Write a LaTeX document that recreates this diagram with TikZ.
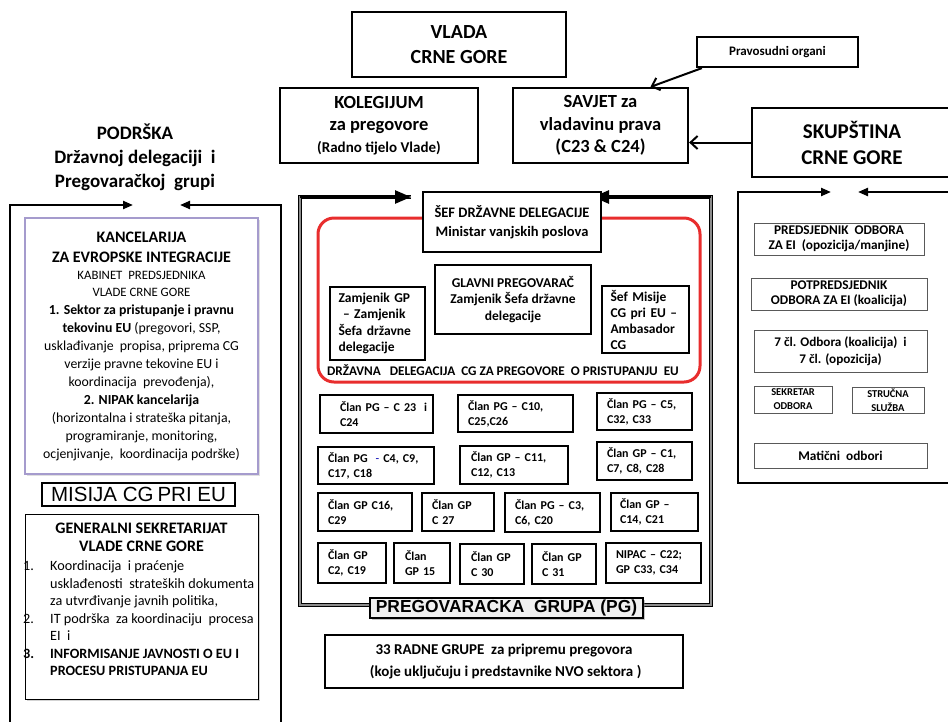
\documentclass[tikz,border=0pt]{standalone}
\usepackage{fontspec}
\setmainfont{Carlito}
\newfontfamily\arialf{Liberation Sans}
\usetikzlibrary{arrows.meta,shadows}
\newcommand{\myfs}[2]{\fontsize{#1}{#2}\selectfont}
\definecolor{redl}{RGB}{232,45,45}
\definecolor{kancb}{RGB}{165,155,205}
\begin{document}
\begin{tikzpicture}[x=1pt,y=-1pt,
  bx/.style={draw, line width=2.2pt, fill=white, inner sep=0pt, align=center},
  clan/.style={draw, line width=2.4pt, fill=white, inner sep=0pt, align=left, font=\bfseries\myfs{12}{15}},
  rbx/.style={draw=black!65, line width=0.9pt, fill=white, inner sep=0pt, align=center, font=\bfseries\myfs{13.3}{15.5}},
  arr/.style={line width=2.2pt, -{Triangle[length=10pt,width=8pt]}},
  carr/.style={line width=2.6pt, -{Triangle[length=16pt,width=13pt]}},
  tarr/.style={line width=2pt, -{Straight Barb[length=7pt,width=13pt]}},
  dbl/.style={draw=black, line width=1.5pt, double=black!45, double distance=1.3pt},
  gsl/.style={anchor=base west, inner sep=0pt, font=\myfs{14.2}{16}},
]
\useasboundingbox (0,0) rectangle (948,721);

% ---------- top ----------
\node[bx, minimum width=214pt, minimum height=65pt, font=\bfseries\myfs{20}{25}] (vlada) at (459,44.5) {VLADA\\CRNE GORE};
\node[bx, minimum width=161pt, minimum height=30pt, font=\bfseries\myfs{13}{15}] (pravo) at (777.5,52) {Pravosudni organi};
\node[bx, minimum width=198pt, minimum height=75pt, font=\bfseries\myfs{18.5}{22}] (koleg) at (379,125.5) {KOLEGIJUM\\za pregovore\\{\myfs{15}{22}(Radno tijelo Vlade)}};
\node[bx, minimum width=175pt, minimum height=75pt, font=\bfseries\myfs{18.5}{22.5}] (savjet) at (600.5,125.5) {SAVJET za\\vladavinu prava\\(C23 \& C24)};
\node[bx, minimum width=200pt, minimum height=69pt, font=\bfseries\myfs{21}{26}] (skup) at (852,142.5) {SKUPŠTINA\\CRNE GORE};
\draw[tarr] ([xshift=6pt]pravo.south west) -- ([xshift=50pt]savjet.north);
\draw[tarr] (skup.west) -- (skup.west -| savjet.east);

% ---------- left column ----------
\node[font=\bfseries\myfs{19}{24}, align=center, inner sep=0pt] (podrska) at (135,157) {PODRŠKA\\Državnoj delegaciji~ i\\Pregovaračkoj~ grupi};
\coordinate (lfbl) at (10,725); \coordinate (lftl) at (10,205); \coordinate (lfa) at (133,205);
\coordinate (lfbr) at (281,725); \coordinate (lftr) at (281,205); \coordinate (lfb) at (180,205);
\draw[arr] (lfbl) -- (lftl) -- (lfa);
\draw[arr] (lfbr) -- (lftr) -- (lfb);

\node[draw=kancb, line width=1.3pt, fill=white, drop shadow={opacity=0.25, shadow xshift=1.5pt, shadow yshift=-1.5pt}, minimum width=233pt, minimum height=256pt, align=center, inner sep=0pt, font=\myfs{13.8}{18}] (kanc) at (141.5,346)
{{\bfseries\myfs{16}{18}KANCELARIJA}\\[2pt]
{\bfseries\myfs{16}{18}ZA EVROPSKE INTEGRACIJE}\\[-1pt]
{\myfs{12.8}{18}KABINET~ PREDSJEDNIKA}\\[-1pt]
{\myfs{12.8}{18}VLADE CRNE GORE}\\
\textbf{1. Sektor za pristupanje i pravnu}\\
\textbf{tekovinu EU} (pregovori, SSP,\\
usklađivanje~ propisa, priprema CG\\
verzije pravne tekovine EU i\\
koordinacija~ prevođenja),\\
\textbf{2. NIPAK kancelarija}\\
(horizontalna i strateška pitanja,\\
programiranje, monitoring,\\
ocjenjivanje,~ koordinacija podrške)};

\node[draw, line width=1.1pt, fill=white, minimum width=193pt, minimum height=23pt, inner sep=0pt, font=\arialf\myfs{20.5}{22}] (misija) at (138.5,494.5) {MISIJA CG\hspace{4pt}PRI EU};

\node[draw, line width=1pt, fill=white, drop shadow={opacity=0.35, shadow xshift=1.5pt, shadow yshift=-1.5pt}, minimum width=233pt, minimum height=185pt, inner sep=0pt] (gs) at (141.5,606.5) {};
\node[font=\bfseries\myfs{16}{18}, align=center, inner sep=0pt] (gshead) at (141.5,537) {GENERALNI SEKRETARIJAT\\VLADE CRNE GORE};
\node[gsl] (g1n) at (23,570) {1.};
\node[gsl] (g1a) at (50,570) {Koordinacija~ i praćenje};
\node[gsl] (g1b) at (50,588) {usklađenosti~ strateških dokumenta};
\node[gsl] (g1c) at (50,605) {za utvrđivanje javnih politika,};
\node[gsl] (g2n) at (23,623) {2.};
\node[gsl] (g2a) at (50,623) {IT podrška~ za koordinaciju~ procesa};
\node[gsl] (g2b) at (50,640) {EI~ i};
\node[gsl, font=\bfseries\myfs{14.2}{16}] (g3n) at (23,658) {3.};
\node[gsl, font=\bfseries\myfs{14.2}{16}] (g3a) at (50,658) {INFORMISANJE JAVNOSTI O EU I};
\node[gsl, font=\bfseries\myfs{14.2}{16}] (g3b) at (50,675) {PROCESU PRISTUPANJA EU};

% ---------- centre ----------
\coordinate (cftl) at (300,197); \coordinate (cfbl) at (300,605);
\coordinate (cfbr) at (711,605); \coordinate (cftr) at (711,197);
\coordinate (cfa) at (411,197); \coordinate (cfb) at (593,197);
\draw[dbl] (cfa) -- (cftl) -- (cfbl) -- (cfbr) -- (cftr) -- (cfb);
\draw[carr] (cftl) -- (cfa);
\draw[carr] (cftr) -- (cfb);

\draw[draw=redl, line width=3pt, rounded corners=16pt] (318,218) rectangle (700,382);
\node[bx, minimum width=178pt, minimum height=60pt, font=\bfseries\myfs{14.5}{19}] (sef) at (512,222) {ŠEF DRŽAVNE DELEGACIJE\\Ministar vanjskih poslova};
\node[bx, line width=2.6pt, minimum width=95pt, minimum height=73pt, text width=78pt, align=left, font=\bfseries\myfs{13.5}{16.5}] (zamj) at (377.5,323.5) {\mbox{Zamjenik GP}\\\mbox{~– Zamjenik}\\\mbox{Šefa državne}\\\mbox{delegacije}};
\node[bx, line width=2.6pt, minimum width=156pt, minimum height=69pt, font=\bfseries\myfs{13.5}{16.5}] (glavni) at (513,299.5) {GLAVNI PREGOVARAČ\\Zamjenik Šefa državne\\delegacije};
\node[bx, line width=2.6pt, minimum width=87pt, minimum height=67pt, text width=70pt, align=left, font=\bfseries\myfs{13.5}{16}] (sefm) at (645.5,319.5) {\mbox{Šef Misije}\\\mbox{CG pri EU –}\\\mbox{Ambasador}\\\mbox{CG}};
\node[font=\bfseries\myfs{13.2}{15}, inner sep=0pt] (drz) at (503,370) {DRŽAVNA~~ DELEGACIJA~ CG ZA PREGOVORE~ O PRISTUPANJU~ EU};

\node[clan, minimum width=113pt, minimum height=38pt, text width=73pt] (b1) at (376.5,414) {\mbox{Član PG – C 23~ i}\\\mbox{C24}};
\node[clan, minimum width=115pt, minimum height=37pt, text width=95pt] (b2) at (515.5,413.5) {\mbox{Član PG – C10,}\\\mbox{C25,C26}};
\node[clan, minimum width=95pt, minimum height=37pt, text width=75pt] (b3) at (644.5,411.5) {\mbox{Član PG – C5,}\\\mbox{C32, C33}};
\node[clan, minimum width=116pt, minimum height=37pt, text width=96pt] (b4) at (376,465.5) {\mbox{Član PG~ {\color{blue!70!black}\mdseries -} C4, C9,}\\\mbox{C17, C18}};
\node[clan, minimum width=108pt, minimum height=38pt, text width=86pt] (b5) at (514,465) {\mbox{Član GP – C11,}\\\mbox{C12, C13}};
\node[clan, minimum width=95pt, minimum height=38pt, text width=75pt] (b6) at (644.5,461) {\mbox{Član GP – C1,}\\\mbox{C7, C8, C28}};
\node[clan, minimum width=94pt, minimum height=38pt, text width=74pt] (b7) at (365,512) {\mbox{Član GP C16,}\\\mbox{C29}};
\node[clan, minimum width=72pt, minimum height=38pt, text width=52pt] (b8) at (458,512) {\mbox{Član GP}\\\mbox{C 27}};
\node[clan, minimum width=95pt, minimum height=39pt, text width=75pt] (b9) at (552.5,512.5) {\mbox{Član PG – C3,}\\\mbox{C6, C20}};
\node[clan, minimum width=87pt, minimum height=38pt, text width=69pt] (b10) at (654.5,512) {\mbox{Član GP –}\\\mbox{C14, C21}};
\node[clan, minimum width=68pt, minimum height=40pt, text width=48pt] (b11) at (352,563) {\mbox{Član GP}\\\mbox{C2, C19}};
\node[clan, minimum width=56pt, minimum height=40pt, text width=34pt] (b12) at (422,563) {\mbox{Član}\\\mbox{GP 15}};
\node[clan, minimum width=64pt, minimum height=40pt, text width=42pt] (b13) at (492,564) {\mbox{Član GP}\\\mbox{C 30}};
\node[clan, minimum width=64pt, minimum height=40pt, text width=44pt] (b14) at (564,564) {\mbox{Član GP}\\\mbox{C 31}};
\node[clan, minimum width=95pt, minimum height=40pt, text width=75pt] (b15) at (653.5,563) {\mbox{NIPAC – C22;}\\\mbox{GP C33, C34}};

\node[draw, line width=1.6pt, fill=black!6, drop shadow={opacity=0.45, shadow xshift=2pt, shadow yshift=-2pt}, minimum width=273pt, minimum height=20pt, inner sep=0pt, font=\arialf\bfseries\myfs{17.4}{20}] (pg) at (506.5,608) {PREGOVARACKA~ GRUPA (PG)};

\node[bx, minimum width=358pt, minimum height=53pt, font=\bfseries\myfs{15}{22}] (radne) at (504,661.5) {33 RADNE GRUPE~ za pripremu pregovora\\~(koje uključuju i predstavnike NVO sektora )};

% ---------- right column ----------
\coordinate (rftl) at (738,192); \coordinate (rfbl) at (738,483); \coordinate (rfbr) at (955,483);
\coordinate (rfa) at (831,192); \coordinate (rftr) at (955,192); \coordinate (rfb) at (858,192);
\draw[arr] (rfbr) -- (rfbl) -- (rftl) -- (rfa);
\draw[arr] (rftr) -- (rfb);

\node[rbx, minimum width=170pt, minimum height=32pt] (p1) at (839,239) {PREDSJEDNIK~ ODBORA\\ZA EI~ (opozicija/manjine)};
\node[rbx, minimum width=176pt, minimum height=32pt] (p2) at (839,294) {POTPREDSJEDNIK\\ODBORA ZA EI (koalicija)};
\node[rbx, minimum width=173pt, minimum height=42pt, font=\bfseries\myfs{13.2}{17}] (p3) at (840.5,351) {7 čl. Odbora (koalicija)~ i\\7 čl. (opozicija)};
\node[rbx, minimum width=78pt, minimum height=27pt, font=\bfseries\myfs{10.5}{14}] (p4) at (793,399.5) {SEKRETAR\\ODBORA};
\node[rbx, minimum width=72pt, minimum height=26pt, font=\bfseries\myfs{10.5}{14}] (p5) at (888,400) {STRUČNA\\SLUŽBA};
\node[rbx, minimum width=173pt, minimum height=25pt] (p6) at (840.5,455.5) {Matični~ odbori};
\end{tikzpicture}
\end{document}
